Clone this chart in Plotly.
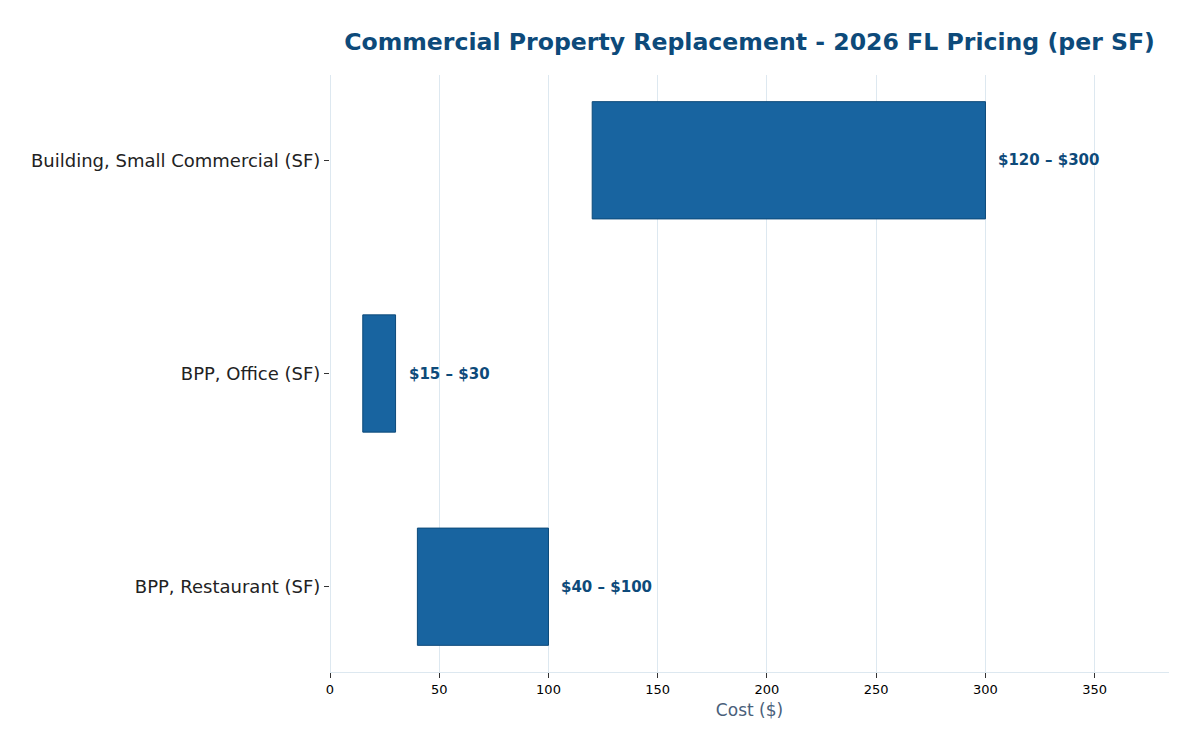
import plotly.graph_objects as go

categories = ["Building, Small Commercial (SF)", "BPP, Office (SF)", "BPP, Restaurant (SF)"]
low_values = [120, 15, 40]
high_values = [300, 30, 100]
labels = [f"${lo} – ${hi}" for lo, hi in zip(low_values, high_values)]
widths = [hi - lo for lo, hi in zip(low_values, high_values)]

fig = go.Figure()
fig.add_trace(go.Bar(
    y=categories,
    x=widths,
    base=low_values,
    orientation="h",
    width=0.55,
    marker=dict(color="#1864a0", line=dict(color="#0d4a7a", width=1)),
    hoverinfo="skip",
))

for cat, hi, lab in zip(categories, high_values, labels):
    fig.add_annotation(
        x=hi, y=cat, xref="x", yref="y",
        text=f"<b>{lab}</b>", showarrow=False,
        xanchor="left", yanchor="middle", xshift=11,
        font=dict(family="DejaVu Sans", size=15, color="#0d4a7a"),
    )

fig.update_layout(
    width=1200, height=750,
    margin=dict(l=330, r=31, t=75, b=78),
    paper_bgcolor="white", plot_bgcolor="white",
    showlegend=False,
    font=dict(family="DejaVu Sans"),
    title=dict(
        text="<b>Commercial Property Replacement - 2026 FL Pricing (per SF)</b>",
        x=0.5, xref="paper", xanchor="center",
        y=1 - 42/750, yref="container", yanchor="middle",
        font=dict(family="DejaVu Sans", size=23.6, color="#0d4a7a"),
    ),
)
fig.update_xaxes(
    range=[0, 384],
    tickvals=[0, 50, 100, 150, 200, 250, 300, 350],
    showgrid=True, gridcolor="#dde8f0", gridwidth=1,
    zeroline=True, zerolinecolor="#dde8f0", zerolinewidth=1,
    showline=True, linecolor="#dde8f0", linewidth=1,
    ticks="outside", ticklen=5, tickcolor="#333333",
    tickfont=dict(family="DejaVu Sans", size=13, color="#000000"),
    title=dict(text="Cost ($)", font=dict(family="DejaVu Sans", size=17, color="#4a607a"), standoff=8),
)
fig.update_yaxes(
    range=[2.4, -0.4],
    showgrid=False, zeroline=False, showline=False,
    ticks="outside", ticklen=5, tickcolor="#333333",
    tickfont=dict(family="DejaVu Sans", size=18, color="#222222"),
)

fig.write_html("out.html")
